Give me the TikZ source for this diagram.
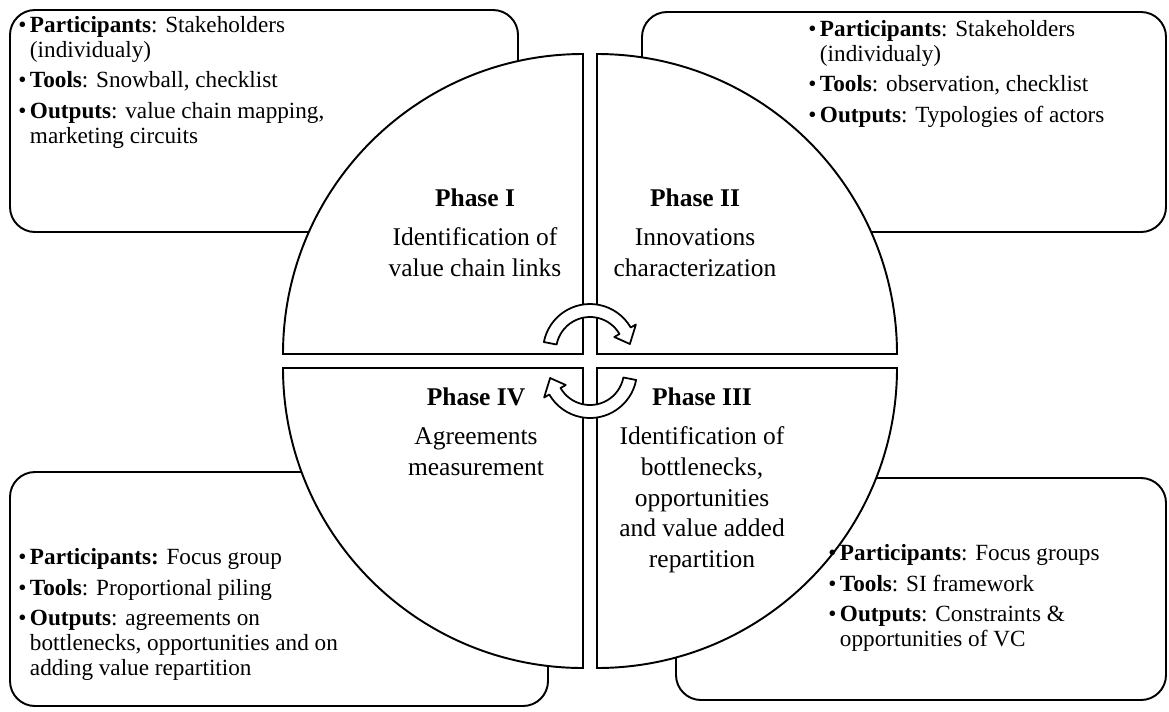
\documentclass[tikz,border=0pt]{standalone}
\usepackage{fontspec}
\setmainfont{Liberation Serif}
\usetikzlibrary{calc}

\newcommand{\bul}{\textbullet}

\begin{document}
\begin{tikzpicture}[x=0.02cm,y=-0.02cm,
    box/.style={draw,line width=1.1pt,rounded corners=0.5cm},
    quad/.style={draw,fill=white,line width=1.1pt},
    cyc/.style={draw,fill=white,line width=1pt,line join=round},
    info/.style={anchor=north west,inner sep=0pt,align=left,
      font=\fontsize{13.2}{14.2}\selectfont},
    phase/.style={anchor=north,inner sep=0pt,align=center,
      font=\fontsize{14.5}{17.5}\selectfont}]

  \useasboundingbox (0,0) rectangle (1169,711);

  % boxes behind the circle
  \draw[box] (10,10) rectangle (518,232);
  \draw[box] (642,12) rectangle (1166,232);
  \draw[box] (10,472) rectangle (548,706);
  \draw[box] (676,478) rectangle (1166,700);

  % the four quarters
  \draw[quad] (583,354) -- ++(-300,0) arc[start angle=180,end angle=270,radius=300] -- cycle;
  \draw[quad] (597,354) -- ++(0,-300) arc[start angle=270,end angle=360,radius=300] -- cycle;
  \draw[quad] (597,368) -- ++(300,0) arc[start angle=0,end angle=90,radius=300] -- cycle;
  \draw[quad] (583,368) -- ++(0,300) arc[start angle=90,end angle=180,radius=300] -- cycle;

  \node[phase] (ph1) at (475,188) {\textbf{Phase I}\\[5pt]Identification of\\value chain links};
  \node[phase] (ph2) at (695,188) {\textbf{Phase II}\\[5pt]Innovations\\characterization};
  \node[phase] (ph3) at (702,387) {\textbf{Phase III}\\[5pt]Identification of\\bottlenecks,\\opportunities\\and value added\\repartition};
  \node[phase] (ph4) at (476,387) {\textbf{Phase IV}\\[5pt]Agreements\\measurement};

  \node[info] (out1) at (18,15) {\begin{tabular}{@{}l@{\hspace{2pt}}l@{}}
    \bul & \textbf{Participants}: Stakeholders\\
         & (individualy)\\[3pt]
    \bul & \textbf{Tools}: Snowball, checklist\\[3pt]
    \bul & \textbf{Outputs}: value chain mapping,\\
         & marketing circuits
  \end{tabular}};
  \node[info] (out2) at (808,19) {\begin{tabular}{@{}l@{\hspace{2pt}}l@{}}
    \bul & \textbf{Participants}: Stakeholders\\
         & (individualy)\\[3pt]
    \bul & \textbf{Tools}: observation, checklist\\[3pt]
    \bul & \textbf{Outputs}: Typologies of actors
  \end{tabular}};
  \node[info] (out3) at (828,543) {\begin{tabular}{@{}l@{\hspace{2pt}}l@{}}
    \bul & \textbf{Participants}: Focus groups\\[3pt]
    \bul & \textbf{Tools}: SI framework\\[3pt]
    \bul & \textbf{Outputs}: Constraints \&\\
         & opportunities of VC
  \end{tabular}};
  \node[info] (out4) at (18,547) {\begin{tabular}{@{}l@{\hspace{2pt}}l@{}}
    \bul & \textbf{Participants:} Focus group\\[3pt]
    \bul & \textbf{Tools}: Proportional piling\\[3pt]
    \bul & \textbf{Outputs}: agreements on\\
         & bottlenecks, opportunities and on\\
         & adding value repartition
  \end{tabular}};

  % cycle arrows in the middle
  \coordinate (ctop) at (590,351);
  \coordinate (cbot) at (590,371);
  \draw[cyc] ($(ctop)+(191:47)$) arc[start angle=191,end angle=330,radius=47]
    -- ($(ctop)+(330:53)$) -- ($(ctop)+(350:40.5)$) -- ($(ctop)+(330:28)$)
    -- ($(ctop)+(330:34)$) arc[start angle=330,end angle=191,radius=34] -- cycle;
  \draw[cyc] ($(cbot)+(11:47)$) arc[start angle=11,end angle=150,radius=47]
    -- ($(cbot)+(150:53)$) -- ($(cbot)+(170:40.5)$) -- ($(cbot)+(150:28)$)
    -- ($(cbot)+(150:34)$) arc[start angle=150,end angle=11,radius=34] -- cycle;

\end{tikzpicture}
\end{document}
